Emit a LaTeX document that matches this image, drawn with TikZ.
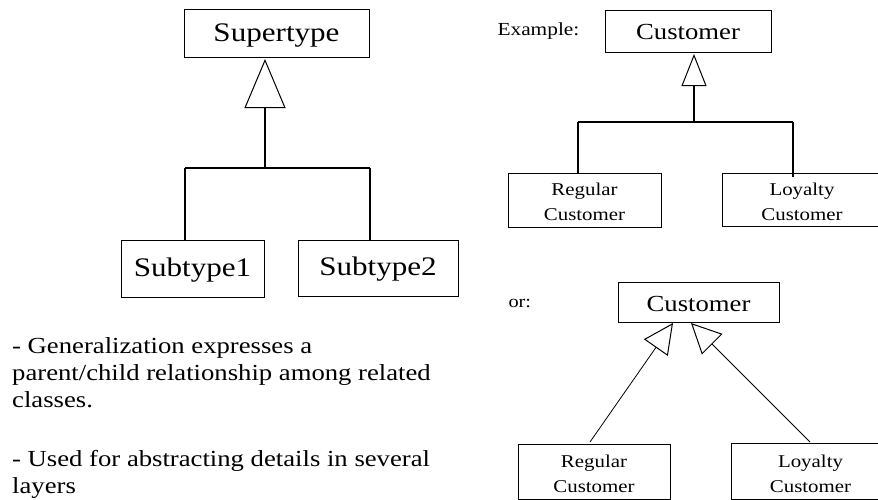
\documentclass[tikz,border=0pt]{standalone}
\usepackage{fontspec}
\setmainfont[FakeStretch=1.16]{Liberation Serif}
\usetikzlibrary{arrows.meta}
\begin{document}
\begin{tikzpicture}[x=1pt,y=-1pt,
  classbox/.style={draw,line width=1pt,inner sep=0pt,align=center,text depth=0pt},
  bigtext/.style={font=\fontsize{26.8}{30}\selectfont},
  midtext/.style={font=\fontsize{23}{26}\selectfont},
  smalltext/.style={font=\fontsize{18}{25}\selectfont},
  notetext/.style={font=\fontsize{23}{27}\selectfont,anchor=base west,align=left,inner sep=0pt},
  tree/.style={line width=2.2pt},
  thinlink/.style={line width=0.8pt}]
\useasboundingbox (0,0) rectangle (878,499);

% Generic supertype / subtype hierarchy
\node[classbox,bigtext,text height=16pt,minimum width=185pt,minimum height=48pt] (super) at (276.5,33) {Supertype};
\node[classbox,bigtext,text height=15pt,minimum width=143pt,minimum height=57pt] (sub1) at (192.5,268.5) {Subtype1};
\node[classbox,bigtext,text height=15pt,minimum width=160pt,minimum height=56pt] (sub2) at (378,268) {Subtype2};
\coordinate (s1tip) at (265,59);
\coordinate (j1) at (265,168);
\coordinate (j1l) at (185,168);
\coordinate (j1r) at (370,168);
\coordinate (d1l) at (185,240);
\coordinate (d1r) at (370,240);
\draw[tree] (j1l) -- (j1r);
\draw[tree] (j1l) -- (d1l);
\draw[tree] (j1r) -- (d1r);
\draw[tree,-{Triangle[open,length=49pt,width=41pt,line width=1pt]}] (j1) -- (s1tip);

% Example with a shared generalization line
\node[font=\fontsize{18.4}{22}\selectfont,anchor=base west] (ex) at (494,35) {Example:};
\node[classbox,midtext,text height=17pt,minimum width=166pt,minimum height=42pt] (cust1) at (688,31) {Customer};
\node[classbox,smalltext,text height=40pt,minimum width=153pt,minimum height=54pt] (reg1) at (584.5,200) {Regular\\Customer};
\node[classbox,smalltext,text height=41pt,minimum width=160pt,minimum height=53pt] (loy1) at (802,199.5) {Loyalty\\Customer};
\coordinate (c1tip) at (694,54);
\coordinate (j2) at (694,122);
\coordinate (j2l) at (578,122);
\coordinate (j2r) at (793,122);
\coordinate (d2l) at (578,173);
\coordinate (d2r) at (793,177);
\draw[tree] (j2l) -- (j2r);
\draw[tree] (j2l) -- (d2l);
\draw[tree] (j2r) -- (d2r);
\draw[tree,-{Triangle[open,length=32pt,width=25pt,line width=1pt]}] (j2) -- (c1tip);

% Alternative with separate generalization arrows
\node[font=\fontsize{17.5}{22}\selectfont,anchor=base west] (or) at (505,307) {or:};
\node[classbox,midtext,text height=19pt,minimum width=161pt,minimum height=40pt] (cust2) at (698.5,302) {Customer};
\node[classbox,smalltext,text height=41pt,minimum width=152pt,minimum height=55pt] (reg2) at (594,471.5) {Regular\\Customer};
\node[classbox,smalltext,text height=42pt,minimum width=159pt,minimum height=56pt] (loy2) at (810.5,471) {Loyalty\\Customer};
\coordinate (r2from) at (590,442);
\coordinate (l2from) at (810,442);
\coordinate (c2ltip) at (673,323);
\coordinate (c2rtip) at (691,323);
\draw[thinlink,-{Triangle[open,length=30pt,width=29pt,line width=1pt]}] (r2from) -- (c2ltip);
\draw[thinlink,-{Triangle[open,length=30pt,width=29pt,line width=1pt]}] (l2from) -- (c2rtip);

% Notes (anchored at the baseline of their last line)
\node[notetext] (note1) at (12,407)
  {- Generalization expresses a\\parent/child relationship among related\\classes.};
\node[notetext] (note2) at (12,493)
  {- Used for abstracting details in several\\layers};
\end{tikzpicture}
\end{document}
